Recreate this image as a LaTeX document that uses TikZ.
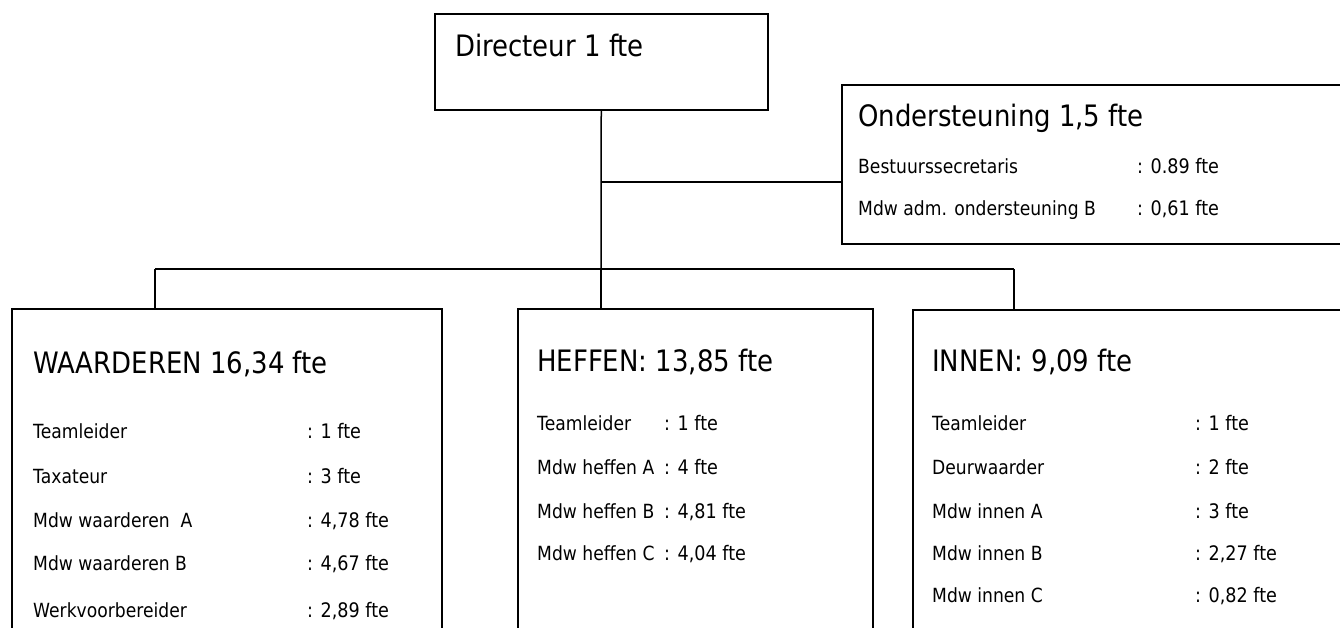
\documentclass[tikz,border=0pt]{standalone}
\usepackage{fontspec}
\setmainfont{DejaVu Sans}[FakeStretch=0.88]
\newcommand{\fteval}[1]{:\hspace{7.5pt}#1}
\begin{document}
\begin{tikzpicture}[x=1pt,y=-1pt,
  box/.style={draw,line width=1.5pt,anchor=north west,inner sep=0pt},
  conn/.style={line width=1.5pt},
  head/.style={anchor=base west,inner sep=0pt,font=\fontsize{29.5}{30}\selectfont},
  item/.style={anchor=base west,inner sep=0pt,font=\fontsize{19.5}{20}\selectfont},
  val/.style={anchor=base west,inner sep=0pt,font=\fontsize{20}{20}\selectfont}]
\useasboundingbox (0,0) rectangle (1340,627);
\clip (0,0) rectangle (1340,627);
% boxes
\node[box,minimum width=333pt,minimum height=96pt] (dir) at (434,13) {};
\node[box,minimum width=540pt,minimum height=159pt] (ond) at (841,84) {};
\node[box,minimum width=430pt,minimum height=360pt] (waa) at (11,308) {};
\node[box,minimum width=355pt,minimum height=360pt] (hef) at (517,308) {};
\node[box,minimum width=460pt,minimum height=360pt] (inn) at (912,309) {};
% connectors
\coordinate (jm) at (601,269);
\coordinate (jo) at (601,182);
\coordinate (jl) at (155,269);
\coordinate (jr) at (1014,269);
\draw[conn] (dir.south) -- (jm);
\draw[conn] (jo) -- (jo -| ond.west);
\draw[conn] (jl) -- (jr);
\draw[conn] (jl) -- (jl |- waa.north);
\draw[conn] (jm) -- (jm |- hef.north);
\draw[conn] (jr) -- (jr |- inn.north);
% directeur
\node[head] (tdir) at (455,56) {Directeur 1 fte};
% ondersteuning
\node[head] (tond) at (858,126) {Ondersteuning 1,5 fte};
\node[item] (o1) at (858,173) {Bestuurssecretaris};
\node[val] (o1v) at (1137,173) {\fteval{0.89 fte}};
\node[item] (o2) at (858,215) {Mdw adm. ondersteuning B};
\node[val] (o2v) at (1137,215) {\fteval{0,61 fte}};
% waarderen
\node[head] (twaa) at (33,373) {WAARDEREN 16,34 fte};
\node[item] (w1) at (33,438) {Teamleider};
\node[val] (w1v) at (307,438) {\fteval{1 fte}};
\node[item] (w2) at (33,483) {Taxateur};
\node[val] (w2v) at (307,483) {\fteval{3 fte}};
\node[item] (w3) at (33,527) {Mdw waarderen\ \ A};
\node[val] (w3v) at (307,527) {\fteval{4,78 fte}};
\node[item] (w4) at (33,570) {Mdw waarderen B};
\node[val] (w4v) at (307,570) {\fteval{4,67 fte}};
\node[item] (w5) at (33,617) {Werkvoorbereider};
\node[val] (w5v) at (307,617) {\fteval{2,89 fte}};
% heffen
\node[head] (thef) at (537,371) {HEFFEN: 13,85 fte};
\node[item] (h1) at (537,430) {Teamleider};
\node[val] (h1v) at (664,430) {\fteval{1 fte}};
\node[item] (h2) at (537,474) {Mdw heffen A};
\node[val] (h2v) at (664,474) {\fteval{4 fte}};
\node[item] (h3) at (537,518) {Mdw heffen B};
\node[val] (h3v) at (664,518) {\fteval{4,81 fte}};
\node[item] (h4) at (537,560) {Mdw heffen C};
\node[val] (h4v) at (664,560) {\fteval{4,04 fte}};
% innen
\node[head] (tinn) at (932,371) {INNEN: 9,09 fte};
\node[item] (i1) at (932,430) {Teamleider};
\node[val] (i1v) at (1195,430) {\fteval{1 fte}};
\node[item] (i2) at (932,474) {Deurwaarder};
\node[val] (i2v) at (1195,474) {\fteval{2 fte}};
\node[item] (i3) at (932,518) {Mdw innen A};
\node[val] (i3v) at (1195,518) {\fteval{3 fte}};
\node[item] (i4) at (932,560) {Mdw innen B};
\node[val] (i4v) at (1195,560) {\fteval{2,27 fte}};
\node[item] (i5) at (932,602) {Mdw innen C};
\node[val] (i5v) at (1195,602) {\fteval{0,82 fte}};
\end{tikzpicture}
\end{document}
